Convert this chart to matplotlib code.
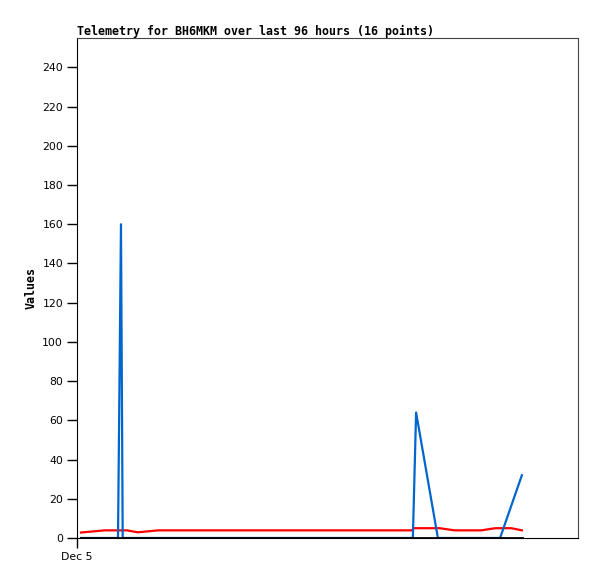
import matplotlib
matplotlib.use("Agg")
import matplotlib.pyplot as plt

# hours since Dec 5 00:00
x_ticks = [0]
x_tick_labels = ["Dec 5"]
y_ticks = [0, 20, 40, 60, 80, 100, 120, 140, 160, 180, 200, 220, 240]

# blue series
blue_hours = [0.86, 8.84, 9.48, 9.85, 72.4, 73.1, 77.8, 91.2, 95.9]
blue_vals = [0, 0, 160, 0, 0, 64, 0, 0, 32]

# red series
red_hours = [0.86, 3.2, 6.0, 10.8, 11.9, 13.1, 15.3, 17.5, 72.2, 72.6, 78.2, 79.9, 81.4,
             87.2, 88.5, 90.2, 93.6, 94.9, 95.9]
red_vals = [2.8, 3.3, 3.9, 3.9, 3.4, 2.9, 3.4, 3.9, 3.9, 5.0, 5.0, 4.4, 3.9,
            3.9, 4.4, 5.0, 5.0, 4.4, 3.9]

# black series
black_hours = [0.86, 95.9]
black_vals = [0, 0]

fig = plt.figure(figsize=(5.97, 5.79), dpi=100)
ax = fig.add_axes([77/597, 1-538/579, 501/597, 500/579])

ax.plot(red_hours, red_vals, color="#ff0000", linewidth=1.6)
ax.plot(blue_hours, blue_vals, color="#0066cc", linewidth=1.6)
ax.plot(black_hours, black_vals, color="#000000", linewidth=2.0)

ax.set_xlim(0, 108)
ax.set_ylim(0, 255)
ax.set_xticks(x_ticks)
ax.set_xticklabels(x_tick_labels)
ax.set_yticks(y_ticks)
ax.tick_params(axis="both", direction="out", length=7, width=1, labelsize=7.8, pad=3)

ax.spines["left"].set_color("black")
ax.spines["bottom"].set_color("black")
ax.spines["top"].set_color("#444444")
ax.spines["right"].set_color("#444444")

ax.set_title("Telemetry for BH6MKM over last 96 hours (16 points)", loc="left",
             fontsize=8.35, fontweight="bold", family="DejaVu Sans Mono", pad=2)
ax.set_ylabel("Values", fontsize=8.35, fontweight="bold", family="DejaVu Sans Mono", labelpad=3)

fig.savefig("out.png", dpi=100)
